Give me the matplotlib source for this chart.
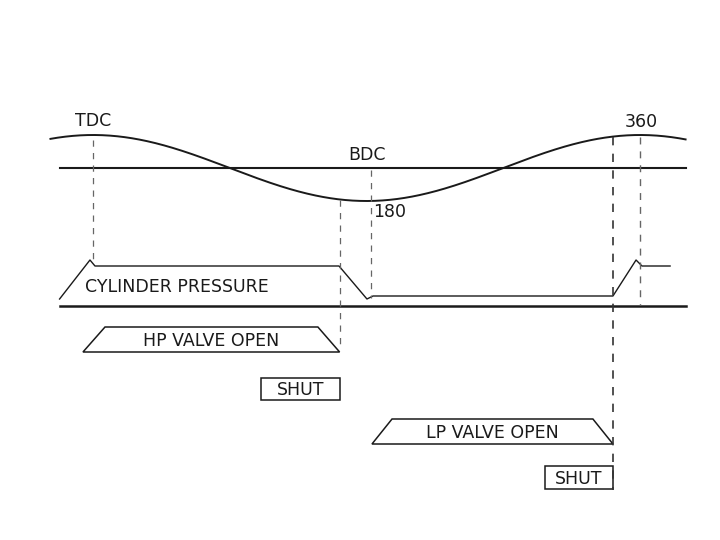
import numpy as np
import matplotlib
matplotlib.use("Agg")
import matplotlib.pyplot as plt
from matplotlib.patches import Polygon, Rectangle

# ---- data (crank angle in degrees; vertical positions in drawing units, top-down) ----
crank_start, crank_end = -28, 390          # extent of the piston-motion curve
mid_level = 168                            # BDC/centre reference line level
stroke_amp = 33                            # amplitude of piston curve

# cylinder pressure trace (angle, level)
pressure_angle = [-22, -2, 1.3, 161.9, 180.3, 184.3, 342.2, 357.4, 361.3, 379.8]
pressure_level = [299, 260, 266, 266, 299, 296, 296, 260, 266, 266]
pressure_base = 306

# valve timing trapezoids: (start, ramp-top start, ramp-top end, end)
hp_valve = [-6.6, 7.9, 148.0, 162.3]
lp_valve = [183.6, 196.8, 329.0, 342.2]
hp_level = (327, 352)
lp_level = (419, 444)
shut_hp = (110.6, 162.3, 378, 400)
shut_lp = (297.5, 342.2, 466, 489)

# dashed timing markers: (angle, y_top, y_bottom, weight)
markers = [(0, 140, 262, 0.9), (162.3, 200, 350, 0.9), (183, 170, 298, 0.9),
           (342.2, 137, 490, 1.2), (360, 137, 305, 1.0)]

labels = [("TDC", -12, 121), ("BDC", 168, 155), ("180", 184.5, 212), ("360", 350, 122),
          ("CYLINDER PRESSURE", -5.3, 287)]

# ---- figure ----
fig = plt.figure(figsize=(7.2, 5.4), dpi=100)
ax = fig.add_axes([0, 0, 1, 1])
px_per_deg = (640 - 93) / 360.0
ax.set_xlim(-93 / px_per_deg, (720 - 93) / px_per_deg)
ax.set_ylim(540, 0)
ax.axis("off")

ink = "#1a1a1a"
fs = 12.5
font = dict(family="DejaVu Sans", color=ink, fontsize=fs)

# piston curve
theta = np.linspace(crank_start, crank_end, 600)
ax.plot(theta, mid_level - stroke_amp * np.cos(np.radians(theta)), color=ink, lw=1.4)

# reference lines
ax.plot([-22, crank_end], [mid_level, mid_level], color=ink, lw=1.5)
ax.plot([-22, crank_end], [pressure_base, pressure_base], color=ink, lw=1.8)

# pressure
ax.plot(pressure_angle, pressure_level, color=ink, lw=1.0)

# dashed markers
for a, y0, y1, w in markers:
    c = "#333333" if w > 1.1 else "#666666"
    ax.plot([a, a], [y0, y1], color=c, lw=w, ls=(0, (5, 5)))

# valve trapezoids
for v, (yt, yb), txt in [(hp_valve, hp_level, "HP VALVE OPEN"),
                          (lp_valve, lp_level, "LP VALVE OPEN")]:
    poly = Polygon([[v[0], yb], [v[1], yt], [v[2], yt], [v[3], yb]], closed=True,
                   fill=False, edgecolor=ink, lw=1.1)
    ax.add_patch(poly)
    ax.text((v[1] + v[2]) / 2, (yt + yb) / 2 + 1, txt, ha="center", va="center", **font)

# shut boxes
for x0, x1, y0, y1 in [shut_hp, shut_lp]:
    ax.add_patch(Rectangle((x0, y0), x1 - x0, y1 - y0, fill=False, edgecolor=ink, lw=1.1))
    ax.text((x0 + x1) / 2, (y0 + y1) / 2 + 1, "SHUT", ha="center", va="center", **font)

# labels
for t, a, y in labels:
    ax.text(a, y, t, ha="left", va="center", **font)

fig.savefig("out.png", dpi=100, facecolor="white")
